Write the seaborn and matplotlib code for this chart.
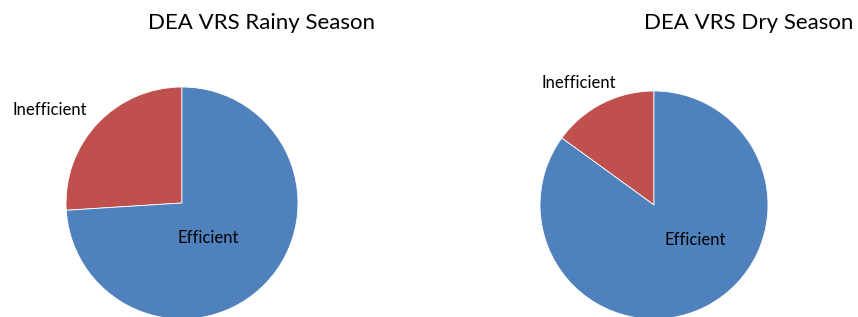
import seaborn as sns
import matplotlib.pyplot as plt

# Data
categories = ['Inefficient', 'Efficient']
rainy_share = [26, 74]
dry_share = [15, 85]
titles = ['DEA VRS Rainy Season', 'DEA VRS Dry Season']

sns.set_style('white')
plt.rcParams['font.family'] = ['Lato', 'DejaVu Sans']
plt.rcParams['text.color'] = 'black'
colors = ['#C0504D', '#4F81BD']

W, H = 858, 317
fig = plt.figure(figsize=(W / 100, H / 100), dpi=100)

# pie centre (px from left, px from top), radius px, label positions in radius units
layouts = [
    dict(cx=182, cy=203, r=116, labels=[(-1.14, 0.80), (0.23, -0.30)], title_x=261),
    dict(cx=654, cy=205, r=114, labels=[(-0.66, 1.07), (0.36, -0.31)], title_x=749),
]

for values, title, lay in zip([rainy_share, dry_share], titles, layouts):
    r = lay['r']
    ax = fig.add_axes([(lay['cx'] - r) / W, (H - lay['cy'] - r) / H, 2 * r / W, 2 * r / H])
    ax.pie(values, colors=colors, startangle=90, counterclock=True, radius=1,
           wedgeprops=dict(linewidth=0.6, edgecolor='white'))
    ax.set_xlim(-1, 1)
    ax.set_ylim(-1, 1)
    ax.set_aspect('auto')
    ax.axis('off')
    for name, (lx, ly) in zip(categories, lay['labels']):
        ax.text(lx, ly, name, ha='center', va='center', fontsize=12, clip_on=False)
    fig.text(lay['title_x'] / W, 1 - 23 / H, title, ha='center', va='center', fontsize=16)

fig.savefig('out.png', dpi=100)
